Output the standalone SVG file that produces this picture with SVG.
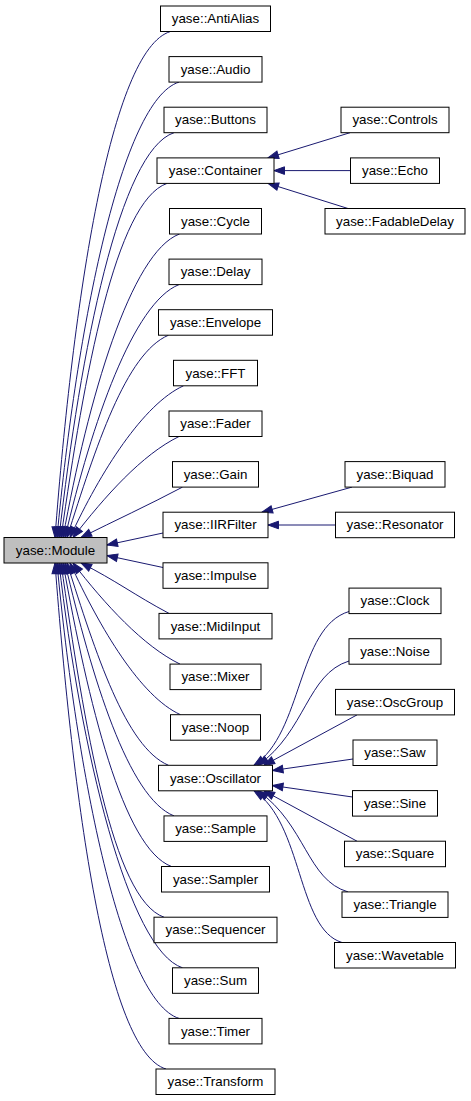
<svg xmlns="http://www.w3.org/2000/svg" width="471" height="1101" viewBox="0 0 471 1101">
<style>
rect{fill:#fff;stroke:#000;stroke-width:1}
#Module rect{fill:#bfbfbf}
text{font-family:"Liberation Sans",Arial,Helvetica,sans-serif;font-size:13.33px;fill:#000;text-anchor:middle}
#edges path{fill:none;stroke:#191970;stroke-width:1;marker-end:url(#arr)}
</style>
<defs>
<marker id="arr" viewBox="-1 -5 13 10" refX="11" refY="0" markerWidth="13" markerHeight="10" markerUnits="userSpaceOnUse" orient="auto" overflow="visible">
<path d="M11,0 L0.5,-3.8 L0.5,3.8 Z" fill="#191970" stroke="#191970" stroke-width="1"/>
</marker>
</defs>
<rect x="0" y="0" width="471" height="1101" style="fill:#fff;stroke:none"/>
<g id="edges">
<path d="M170.5,31.5 C110.5,49.5 73,300.5 55,537.5"/>
<path d="M179,82.1 C121.9,100.1 76.8,324.9 57,537.5"/>
<path d="M174,132.7 C119.8,150.7 80.6,349.3 59,537.5"/>
<path d="M167,183.4 C115.7,201.4 84.3,373.8 61,537.5"/>
<path d="M179.5,234 C131,252 88.1,398.2 63,537.5"/>
<path d="M179,284.6 C133.4,302.6 91.9,422.6 65,537.5"/>
<path d="M168.5,335.2 C125.8,353.2 95.7,447 67,537.5"/>
<path d="M183.5,385.8 C143.7,403.8 100.4,471.4 70,537.5"/>
<path d="M179,436.5 C142.1,454.5 105.2,495.9 73,537.5"/>
<path d="M182.5,487.1 C148.5,505.1 115,520.5 81,537.5"/>
<path d="M163,533 L107,545"/>
<path d="M163,567.5 L107,555.5"/>
<path d="M169,613.4 C135,595.4 115,580 81,563"/>
<path d="M180,664.1 C143.1,646.1 105.2,604.6 73,563"/>
<path d="M180.5,714.7 C140.7,696.7 100.4,629.1 70,563"/>
<path d="M168.5,765.3 C125.8,747.3 95.7,653.5 67,563"/>
<path d="M174,815.9 C128.4,797.9 91.9,677.9 65,563"/>
<path d="M171.5,866.5 C123,848.5 88.1,702.3 63,563"/>
<path d="M164,917.2 C112.7,899.2 84.3,726.7 61,563"/>
<path d="M182.5,967.8 C128.3,949.8 80.6,751.2 59,563"/>
<path d="M179,1018.4 C121.9,1000.4 76.8,775.6 57,563"/>
<path d="M166,1069 C106,1051 73,800 55,563"/>
<path d="M350,132.7 L268,157.9"/>
<path d="M350.5,170.6 L274,170.6"/>
<path d="M348,208.5 L268,183.4"/>
<path d="M352,487.1 L262,512.2"/>
<path d="M335.5,525 L268,525"/>
<path d="M349,611.5 C297,627 303,733 254,765.3"/>
<path d="M349,661 C307,674 306,731 258,765.3"/>
<path d="M357,714.9 L264,765.3"/>
<path d="M353,759 L272.5,770.5"/>
<path d="M352.5,797 L272.5,785.5"/>
<path d="M357,841.2 L264,790.8"/>
<path d="M348,891.9 C307,880 306,825 258,790.8"/>
<path d="M342,942.5 C297,929 303,823 254,790.8"/>
</g>
<g id="Module"><rect x="4" y="537.5" width="103" height="25.5"/><text x="55.5" y="554.75">yase::Module</text></g>
<g id="AntiAlias"><rect x="160.5" y="6" width="110" height="25.5"/><text x="215.5" y="23.25">yase::AntiAlias</text></g>
<g id="Audio"><rect x="169" y="56.6" width="93" height="25.5"/><text x="215.5" y="73.85">yase::Audio</text></g>
<g id="Buttons"><rect x="164" y="107.2" width="103" height="25.5"/><text x="215.5" y="124.45">yase::Buttons</text></g>
<g id="Container"><rect x="157" y="157.9" width="117" height="25.5"/><text x="215.5" y="175.15">yase::Container</text></g>
<g id="Cycle"><rect x="169.5" y="208.5" width="92" height="25.5"/><text x="215.5" y="225.75">yase::Cycle</text></g>
<g id="Delay"><rect x="169" y="259.1" width="93" height="25.5"/><text x="215.5" y="276.35">yase::Delay</text></g>
<g id="Envelope"><rect x="158.5" y="309.7" width="114" height="25.5"/><text x="215.5" y="326.95">yase::Envelope</text></g>
<g id="FFT"><rect x="173.5" y="360.3" width="84" height="25.5"/><text x="215.5" y="377.55">yase::FFT</text></g>
<g id="Fader"><rect x="169" y="411" width="93" height="25.5"/><text x="215.5" y="428.25">yase::Fader</text></g>
<g id="Gain"><rect x="172.5" y="461.6" width="86" height="25.5"/><text x="215.5" y="478.85">yase::Gain</text></g>
<g id="IIRFilter"><rect x="163" y="512.2" width="105" height="25.5"/><text x="215.5" y="529.45">yase::IIRFilter</text></g>
<g id="Impulse"><rect x="163" y="562.8" width="105" height="25.5"/><text x="215.5" y="580.05">yase::Impulse</text></g>
<g id="MidiInput"><rect x="159" y="613.4" width="113" height="25.5"/><text x="215.5" y="630.65">yase::MidiInput</text></g>
<g id="Mixer"><rect x="170" y="664.1" width="91" height="25.5"/><text x="215.5" y="681.35">yase::Mixer</text></g>
<g id="Noop"><rect x="170.5" y="714.7" width="90" height="25.5"/><text x="215.5" y="731.95">yase::Noop</text></g>
<g id="Oscillator"><rect x="158.5" y="765.3" width="114" height="25.5"/><text x="215.5" y="782.55">yase::Oscillator</text></g>
<g id="Sample"><rect x="164" y="815.9" width="103" height="25.5"/><text x="215.5" y="833.15">yase::Sample</text></g>
<g id="Sampler"><rect x="161.5" y="866.5" width="108" height="25.5"/><text x="215.5" y="883.75">yase::Sampler</text></g>
<g id="Sequencer"><rect x="154" y="917.2" width="123" height="25.5"/><text x="215.5" y="934.45">yase::Sequencer</text></g>
<g id="Sum"><rect x="172.5" y="967.8" width="86" height="25.5"/><text x="215.5" y="985.05">yase::Sum</text></g>
<g id="Timer"><rect x="169" y="1018.4" width="93" height="25.5"/><text x="215.5" y="1035.65">yase::Timer</text></g>
<g id="Transform"><rect x="156" y="1069" width="119" height="25.5"/><text x="215.5" y="1086.25">yase::Transform</text></g>
<g id="Controls"><rect x="341" y="107.2" width="108" height="25.5"/><text x="395" y="124.45">yase::Controls</text></g>
<g id="Echo"><rect x="350.5" y="157.9" width="89" height="25.5"/><text x="395" y="175.15">yase::Echo</text></g>
<g id="FadableDelay"><rect x="325" y="208.5" width="140" height="25.5"/><text x="395" y="225.75">yase::FadableDelay</text></g>
<g id="Biquad"><rect x="345" y="461.6" width="100" height="25.5"/><text x="395" y="478.85">yase::Biquad</text></g>
<g id="Resonator"><rect x="335.5" y="512.2" width="119" height="25.5"/><text x="395" y="529.45">yase::Resonator</text></g>
<g id="Clock"><rect x="349" y="588.1" width="92" height="25.5"/><text x="395" y="605.35">yase::Clock</text></g>
<g id="Noise"><rect x="349" y="638.7" width="92" height="25.5"/><text x="395" y="655.95">yase::Noise</text></g>
<g id="OscGroup"><rect x="335.5" y="689.4" width="119" height="25.5"/><text x="395" y="706.65">yase::OscGroup</text></g>
<g id="Saw"><rect x="353" y="740" width="84" height="25.5"/><text x="395" y="757.25">yase::Saw</text></g>
<g id="Sine"><rect x="352.5" y="790.6" width="85" height="25.5"/><text x="395" y="807.85">yase::Sine</text></g>
<g id="Square"><rect x="344.5" y="841.2" width="101" height="25.5"/><text x="395" y="858.45">yase::Square</text></g>
<g id="Triangle"><rect x="342" y="891.9" width="106" height="25.5"/><text x="395" y="909.15">yase::Triangle</text></g>
<g id="Wavetable"><rect x="334.5" y="942.5" width="121" height="25.5"/><text x="395" y="959.75">yase::Wavetable</text></g>
</svg>
